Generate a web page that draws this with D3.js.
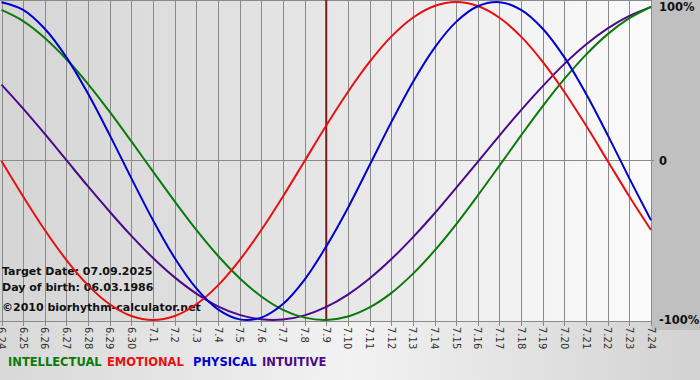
<!DOCTYPE html>
<html>
<head>
<meta charset="utf-8">
<script src="https://cdn.jsdelivr.net/npm/d3@7"></script>
<style>
html,body{margin:0;padding:0;background:#fff;}
svg{display:block;}
text{font-family:Verdana,"DejaVu Sans",sans-serif;}
</style>
</head>
<body>
<svg id="chart" width="700" height="380"></svg>
<script>
// ---- data ----
const dates = ["6.24","6.25","6.26","6.27","6.28","6.29","6.30","7.1","7.2","7.3","7.4","7.5","7.6","7.7","7.8","7.9","7.10","7.11","7.12","7.13","7.14","7.15","7.16","7.17","7.18","7.19","7.20","7.21","7.22","7.23","7.24"];
const physical = [0.999,0.951,0.832,0.652,0.423,0.163,-0.109,-0.373,-0.610,-0.801,-0.933,-0.996,-0.985,-0.900,-0.746,-0.537,-0.295,-0.027,0.243,0.496,0.712,0.875,0.973,0.999,0.951,0.832,0.652,0.423,0.163,-0.109,-0.373];
const emotional = [0,-0.223,-0.434,-0.623,-0.782,-0.901,-0.975,-1,-0.975,-0.901,-0.782,-0.623,-0.434,-0.223,0,0.223,0.434,0.623,0.782,0.901,0.975,1,0.975,0.901,0.782,0.623,0.434,0.223,0,-0.223,-0.434];
const intellectual = [0.950,0.880,0.774,0.640,0.484,0.309,0.123,-0.067,-0.254,-0.433,-0.596,-0.737,-0.852,-0.936,-0.985,-1.000,-0.978,-0.921,-0.831,-0.710,-0.564,-0.398,-0.217,-0.029,0.161,0.345,0.516,0.669,0.798,0.898,0.970];
const intuitive = [0.480,0.329,0.170,0.005,-0.160,-0.319,-0.471,-0.610,-0.732,-0.834,-0.914,-0.968,-0.996,-0.997,-0.971,-0.918,-0.840,-0.739,-0.618,-0.480,-0.330,-0.169,-0.005,0.160,0.320,0.471,0.611,0.733,0.834,0.913,0.968];
const yTicks = [1, 0, -1];
const yTickLabels = ["100%", "0", "-100%"];
const targetDate = "7.9";
const infoLines = ["Target Date: 07.09.2025", "Day of birth: 06.03.1986", "\u00A92010 biorhythm-calculator.net"];
const legendNames = ["INTELLECTUAL", "EMOTIONAL", "PHYSICAL", "INTUITIVE"];

// ---- layout ----
const W = 700, H = 380;
const plotL = 1.5, plotR = 651, plotT = 0, plotB = 321;
const svg = d3.select("#chart");

const x = d3.scalePoint().domain(dates).range([plotL, plotR]);
const y = d3.scaleLinear().domain([-1, 1]).range([320, 2]);

const defs = svg.append("defs");
const g1 = defs.append("linearGradient").attr("id","plotbg").attr("x1","0").attr("x2","1").attr("y1","0").attr("y2","0");
g1.append("stop").attr("offset","0").attr("stop-color","#d5d5d5");
g1.append("stop").attr("offset","0.5").attr("stop-color","#e6e6e6");
g1.append("stop").attr("offset","1").attr("stop-color","#fbfbfb");
const g2 = defs.append("linearGradient").attr("id","botbg").attr("x1","0").attr("x2","1").attr("y1","0").attr("y2","0");
g2.append("stop").attr("offset","0").attr("stop-color","#d8d8d8");
g2.append("stop").attr("offset","0.5").attr("stop-color","#f2f2f2");
g2.append("stop").attr("offset","1").attr("stop-color","#d2d2d2");

// backgrounds
svg.append("rect").attr("x",0).attr("y",0).attr("width",W).attr("height",H).attr("fill","url(#botbg)");
svg.append("rect").attr("x",plotR).attr("y",0).attr("width",W-plotR).attr("height",330).attr("fill","#c0c0c0");
svg.append("rect").attr("x",0).attr("y",plotT).attr("width",plotR).attr("height",plotB-plotT).attr("fill","url(#plotbg)");

// vertical grid lines
svg.append("g").selectAll("line").data(dates).join("line")
  .attr("x1", d => Math.round(x(d)) + 0.5).attr("x2", d => Math.round(x(d)) + 0.5)
  .attr("y1", 0).attr("y2", 326)
  .attr("stroke", "#8a8a8a").attr("stroke-width", 1);

// horizontal lines
svg.append("line").attr("x1",0).attr("x2",plotR).attr("y1",0.5).attr("y2",0.5).attr("stroke","#8a8a8a");
svg.append("line").attr("x1",0).attr("x2",plotR).attr("y1",plotB+0.5).attr("y2",plotB+0.5).attr("stroke","#8a8a8a");
svg.append("line").attr("x1",0).attr("x2",plotR+3).attr("y1",Math.round(y(0))-0.5).attr("y2",Math.round(y(0))-0.5).attr("stroke","#8a8a8a");

// x labels (rotated)
svg.append("g").selectAll("text").data(dates).join("text")
  .attr("transform", d => `translate(${x(d)-3.5},327) rotate(90)`)
  .attr("font-size", 10).attr("fill", "#333")
  .text(d => d);

// y labels
const yLabelY = v => Math.min(Math.max(y(v), 7), 322) + 4;
svg.append("g").selectAll("text").data(yTicks).join("text")
  .attr("x", 659).attr("y", d => yLabelY(d))
  .attr("font-size", 11.5).attr("font-weight", "bold").attr("fill", "#111")
  .text((d, i) => yTickLabels[i]);

// info text
svg.append("g").selectAll("text").data(infoLines).join("text")
  .attr("x", 2).attr("y", (d, i) => [275, 291, 311][i])
  .attr("font-size", 11).attr("font-weight", "bold").attr("fill", "#111")
  .text(d => d);

// target date line
svg.append("line").attr("x1", x(targetDate)).attr("x2", x(targetDate))
  .attr("y1", 0).attr("y2", plotB).attr("stroke", "#7a1a1a").attr("stroke-width", 2);

// curves
const series = [
  {name: "INTELLECTUAL", values: intellectual, color: "#0a7a0a"},
  {name: "EMOTIONAL", values: emotional, color: "#e81010"},
  {name: "PHYSICAL", values: physical, color: "#0000d0"},
  {name: "INTUITIVE", values: intuitive, color: "#4c0a8a"}
];
const line = d3.line().x((d, i) => x(dates[i])).y(d => y(d)).curve(d3.curveCatmullRom.alpha(0.5));
const drawOrder = [3, 0, 1, 2];
svg.append("g").selectAll("path").data(drawOrder.map(i => series[i])).join("path")
  .attr("d", s => line(s.values))
  .attr("fill", "none").attr("stroke", s => s.color).attr("stroke-width", 2);

// legend
const legendX = [8, 107, 193, 262];
svg.append("g").selectAll("text").data(legendNames).join("text")
  .attr("x", (d, i) => legendX[i]).attr("y", 366)
  .attr("font-size", 11.5).attr("font-weight", "bold")
  .attr("fill", d => series.find(s => s.name === d).color)
  .text(d => d);
</script>
</body>
</html>
